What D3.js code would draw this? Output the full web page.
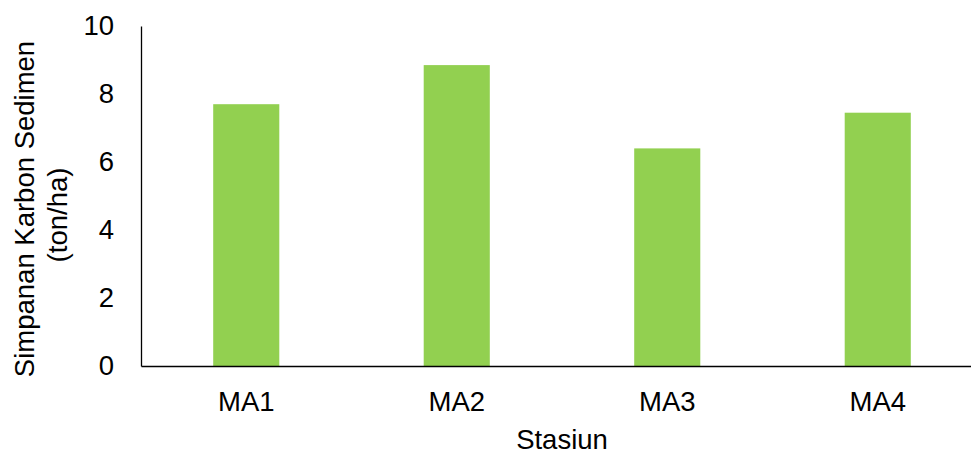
<!DOCTYPE html>
<html>
<head>
<meta charset="utf-8">
<script src="https://cdnjs.cloudflare.com/ajax/libs/d3/7.8.5/d3.min.js"></script>
<style>
  body { margin: 0; background: #fff; }
  text { font-family: "Liberation Sans", Arial, sans-serif; fill: #000; }
</style>
</head>
<body>
<div id="chart"></div>
<script>
// data
var stations = ["MA1", "MA2", "MA3", "MA4"];
var carbon = [7.7, 8.85, 6.4, 7.45];
var yTicks = [0, 2, 4, 6, 8, 10];

var width = 971, height = 453;
var margin = {top: 26, right: -12, bottom: 87, left: 141};
var fontSize = "27.5px";

var svg = d3.select("#chart")
  .append("svg")
    .attr("width", width)
    .attr("height", height);

var x = d3.scaleBand()
  .domain(stations)
  .range([margin.left, width - margin.right])
  .paddingInner(0.686)
  .paddingOuter(0.343);

var y = d3.scaleLinear()
  .domain([0, 10])
  .range([height - margin.bottom, margin.top]);

// bars
svg.append("g")
  .selectAll("rect")
  .data(carbon)
  .enter()
  .append("rect")
    .attr("x", function(d, i) { return x(stations[i]); })
    .attr("y", function(d) { return y(d); })
    .attr("width", x.bandwidth())
    .attr("height", function(d) { return y(0) - y(d); })
    .style("fill", "#92d050");

// y axis
var yAxis = svg.append("g")
  .attr("transform", "translate(" + margin.left + ",0)")
  .call(d3.axisLeft(y).tickValues(yTicks).tickSize(0).tickPadding(27));
yAxis.select(".domain").attr("stroke", "#000").attr("stroke-width", 1.3);
yAxis.selectAll("text").style("font-size", fontSize)
  .style("font-family", "Liberation Sans, Arial, sans-serif");

// x axis
var xAxis = svg.append("g")
  .attr("transform", "translate(0," + y(0) + ")")
  .call(d3.axisBottom(x).tickSize(0).tickPadding(25));
xAxis.select(".domain").attr("stroke", "#000").attr("stroke-width", 1.3);
xAxis.selectAll("text").style("font-size", fontSize)
  .style("font-family", "Liberation Sans, Arial, sans-serif");

// axis titles
svg.append("text")
  .attr("x", (margin.left + width - margin.right) / 2)
  .attr("y", 449)
  .attr("text-anchor", "middle")
  .style("font-size", fontSize)
  .text("Stasiun");

svg.append("text")
  .attr("transform", "translate(34,209) rotate(-90)")
  .attr("text-anchor", "middle")
  .style("font-size", fontSize)
  .text("Simpanan Karbon Sedimen");

svg.append("text")
  .attr("transform", "translate(67,215) rotate(-90)")
  .attr("text-anchor", "middle")
  .style("font-size", fontSize)
  .text("(ton/ha)");
</script>
</body>
</html>
